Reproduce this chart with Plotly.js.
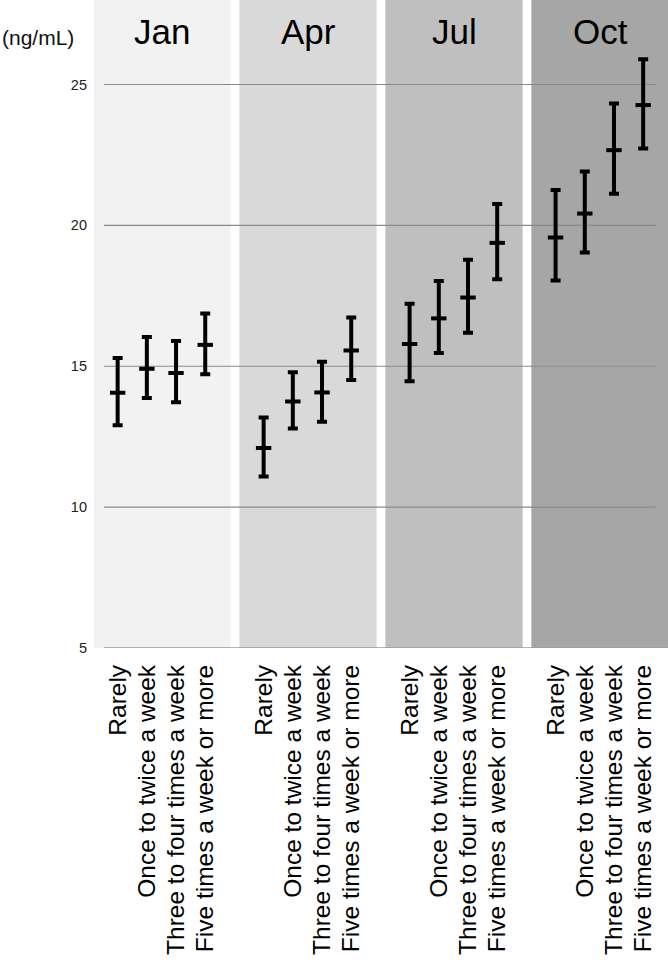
<!DOCTYPE html>
<html>
<head>
<meta charset="utf-8">
<script src="https://cdn.plot.ly/plotly-3.0.1.min.js"></script>
<style>html,body{margin:0;padding:0;background:#fff;}#chart{width:668px;height:960px;}</style>
</head>
<body>
<div id="chart"></div>
<script>
const months = ["Jan", "Apr", "Jul", "Oct"];
const categories = ["Rarely", "Once to twice a week", "Three to four times a week", "Five times a week or more"];
const yTicks = [5, 10, 15, 20, 25];
const panelColors = ["#f2f2f2", "#d9d9d9", "#bfbfbf", "#a6a6a6"];

const janMean = [14.06, 14.91, 14.76, 15.76];
const janHigh = [15.29, 16.04, 15.90, 16.87];
const janLow  = [12.91, 13.87, 13.72, 14.72];

const aprMean = [12.10, 13.75, 14.07, 15.56];
const aprHigh = [13.18, 14.79, 15.16, 16.73];
const aprLow  = [11.09, 12.79, 13.03, 14.51];

const julMean = [15.79, 16.70, 17.44, 19.38];
const julHigh = [17.22, 18.03, 18.78, 20.76];
const julLow  = [14.47, 15.47, 16.19, 18.09];

const octMean = [19.57, 20.42, 22.67, 24.27];
const octHigh = [21.26, 21.91, 24.33, 25.90];
const octLow  = [18.04, 19.04, 21.12, 22.73];

const means = [janMean, aprMean, julMean, octMean];
const highs = [janHigh, aprHigh, julHigh, octHigh];
const lows  = [janLow, aprLow, julLow, octLow];

const groupStep = categories.length + 1;
const traces = [];
const tickvals = [];
const ticktext = [];
const shapes = [];
const annotations = [];

months.forEach((m, g) => {
  const xs = categories.map((c, i) => g * groupStep + i);
  xs.forEach((x, i) => { tickvals.push(x); ticktext.push(categories[i]); });
  traces.push({
    type: "scatter",
    mode: "markers",
    name: m,
    x: xs,
    y: means[g],
    marker: {symbol: "line-ew", size: 11, color: "#000", line: {color: "#000", width: 4}},
    error_y: {
      type: "data",
      symmetric: false,
      array: means[g].map((v, i) => highs[g][i] - v),
      arrayminus: means[g].map((v, i) => v - lows[g][i]),
      color: "#000",
      thickness: 4,
      width: 5
    },
    hoverinfo: "x+y"
  });
  const start = g * groupStep;
  const end = start + categories.length - 1;
  shapes.push({
    type: "rect", layer: "below", xref: "x", yref: "paper",
    x0: start - 0.83, x1: end + 0.87, y0: 0, y1: 1,
    fillcolor: panelColors[g], line: {width: 0}
  });
  annotations.push({
    xref: "x", yref: "paper", x: (start + end) / 2 + 0.03, y: 1 - 31.5 / 648,
    xanchor: "center", yanchor: "middle", showarrow: false,
    text: m, font: {family: "Liberation Sans, Arial, sans-serif", size: 35, color: "#000"}
  });
});

const xMin = -0.47, xMax = (months.length - 1) * groupStep + categories.length - 1 + 0.43;
yTicks.forEach((v, k) => {
  shapes.push({
    type: "line", layer: "below", xref: "x", yref: "y",
    x0: xMin, x1: k === 0 ? 18.85 : xMax, y0: v, y1: v,
    line: {color: k === 0 ? "#9a9a9a" : "#8a8a8a", width: k === 0 ? 1.5 : 1.2}
  });
});

annotations.push({
  xref: "paper", yref: "paper", x: -94 / 574, y: 1 - 37 / 648,
  xanchor: "left", yanchor: "middle", showarrow: false,
  text: "(ng/mL)", font: {family: "Liberation Sans, Arial, sans-serif", size: 21, color: "#111"}
});

const layout = {
  width: 668, height: 960,
  margin: {l: 94, r: 0, t: 0, b: 312, pad: 0},
  paper_bgcolor: "#fff", plot_bgcolor: "rgba(0,0,0,0)",
  showlegend: false,
  font: {family: "Liberation Sans, Arial, sans-serif", color: "#000"},
  xaxis: {
    type: "linear", range: [-0.81, 18.85],
    tickmode: "array", tickvals: tickvals, ticktext: ticktext,
    tickangle: -90, ticks: "", showgrid: false, zeroline: false, showline: false,
    ticklabelstandoff: 11,
    tickfont: {family: "Liberation Sans, Arial, sans-serif", size: 24.5, color: "#000"},
    fixedrange: true
  },
  yaxis: {
    range: [5, 28], tickmode: "array", tickvals: yTicks,
    ticks: "", showgrid: false, zeroline: false, showline: false,
    ticklabelstandoff: 6,
    tickfont: {family: "Liberation Sans, Arial, sans-serif", size: 14.5, color: "#222"},
    fixedrange: true
  },
  shapes: shapes,
  annotations: annotations
};

Plotly.newPlot("chart", traces, layout, {displayModeBar: false, staticPlot: true});
</script>
</body>
</html>
